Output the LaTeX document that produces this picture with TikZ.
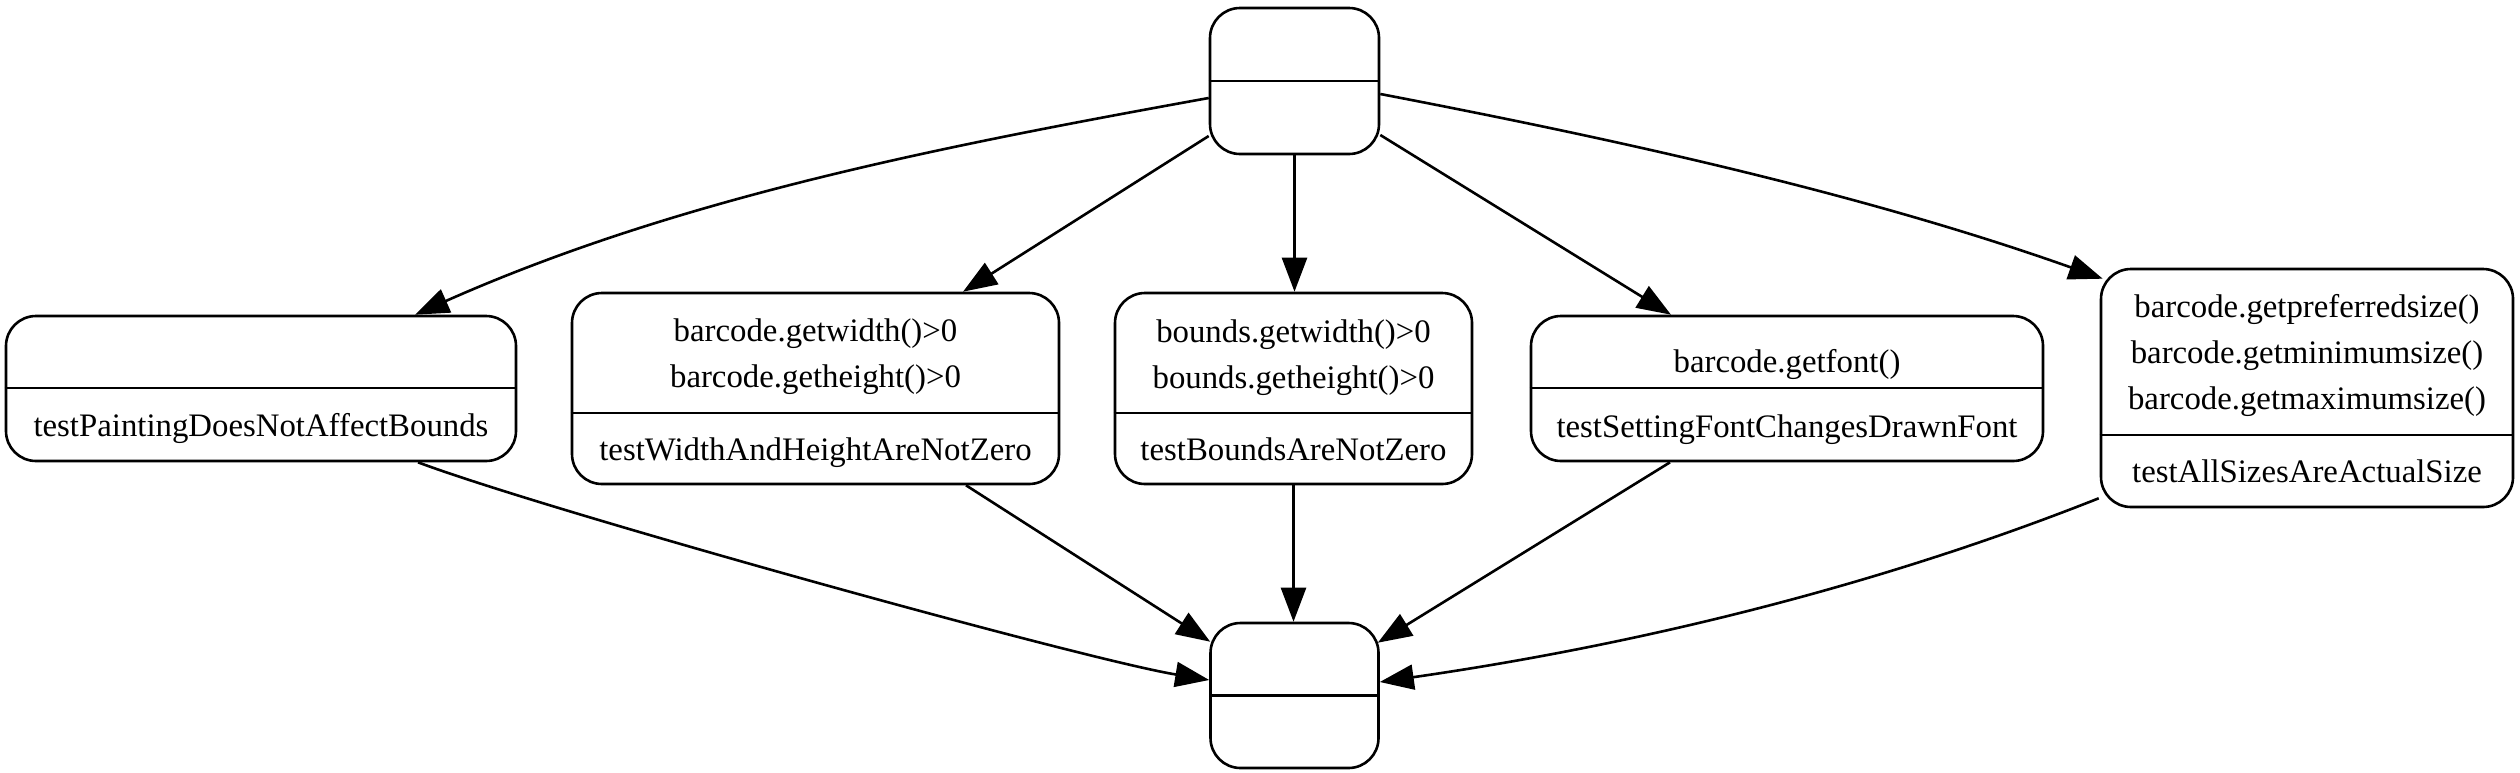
\documentclass[tikz,border=0pt]{standalone}
\usepackage{fontspec}
\setmainfont{Liberation Serif}
\usetikzlibrary{arrows.meta,calc}
\begin{document}
\begin{tikzpicture}[x=0.5pt,y=-0.5pt,
  box/.style={draw,line width=1.3pt,rounded corners=15pt,inner sep=0pt,fill=white},
  lbl/.style={anchor=base,inner sep=0pt,font=\fontsize{16.4}{19}\selectfont},
  edge/.style={line width=1.3pt,-{Triangle[length=17pt,width=12.5pt]}},
  divider/.style={line width=1.3pt}]
\useasboundingbox (0,0) rectangle (2520,772);
% boxes
\node[box,minimum width=84.5pt,minimum height=73pt] (T) at (1294.5,81) {};
\node[box,minimum width=255pt,minimum height=72.5pt] (L) at (261,388.5) {};
\node[box,minimum width=243.5pt,minimum height=95.5pt] (A) at (815.5,388.5) {};
\node[box,minimum width=178.5pt,minimum height=95.5pt] (B) at (1293.5,388.5) {};
\node[box,minimum width=256pt,minimum height=72.5pt] (C) at (1787,388.5) {};
\node[box,minimum width=206pt,minimum height=119pt] (D) at (2307,388) {};
\node[box,minimum width=84pt,minimum height=72.5pt] (Bt) at (1294.5,695.5) {};
% dividers
\draw[divider] (T.west) -- (T.east);
\draw[divider] ($(L.west)+(0,-0.5)$) -- ($(L.east)+(0,-0.5)$);
\draw[divider] ($(A.west)+(0,24.5)$) -- ($(A.east)+(0,24.5)$);
\draw[divider] ($(B.west)+(0,24.5)$) -- ($(B.east)+(0,24.5)$);
\draw[divider] ($(C.west)+(0,-0.5)$) -- ($(C.east)+(0,-0.5)$);
\draw[divider] ($(D.west)+(0,47)$) -- ($(D.east)+(0,47)$);
\draw[divider] (Bt.west) -- (Bt.east);
% labels
\node[lbl] (tL) at (261,436) {testPaintingDoesNotAffectBounds};
\node[lbl] (tA1) at (815.5,341) {barcode.getwidth()>0};
\node[lbl] (tA2) at (815.5,387) {barcode.getheight()>0};
\node[lbl] (tA3) at (815.5,460) {testWidthAndHeightAreNotZero};
\node[lbl] (tB1) at (1293.5,342) {bounds.getwidth()>0};
\node[lbl] (tB2) at (1293.5,388) {bounds.getheight()>0};
\node[lbl] (tB3) at (1293.5,460) {testBoundsAreNotZero};
\node[lbl] (tC1) at (1787,372) {barcode.getfont()};
\node[lbl] (tC2) at (1787,437) {testSettingFontChangesDrawnFont};
\node[lbl] (tD1) at (2307,317) {barcode.getpreferredsize()};
\node[lbl] (tD2) at (2307,363) {barcode.getminimumsize()};
\node[lbl] (tD3) at (2307,409) {barcode.getmaximumsize()};
\node[lbl] (tD4) at (2307,482) {testAllSizesAreActualSize};
% edges
\draw[edge] ($(T.west)+(0,17)$) .. controls (944,146) and (680,197) .. ($(L.north)+(154,0)$);
\draw[edge] ($(T.west)+(0,55)$) -- ($(A.north)+(147.5,0)$);
\draw[edge] (T.south) -- (T.south |- B.north);
\draw[edge] ($(T.east)+(0,54)$) -- ($(C.north)+(-116,0)$);
\draw[edge] ($(T.east)+(0,13)$) .. controls (1620,140) and (1864,194) .. ($(D.north west)+(3,11)$);
\draw[edge] ($(L.south)+(157,0)$) .. controls (548,511) and (1082,659) .. ($(Bt.west)+(0,-15.5)$);
\draw[edge] ($(A.south)+(150.5,0)$) -- ($(Bt.north west)+(1,20)$);
\draw[edge] (B.south) -- (B.south |- Bt.north);
\draw[edge] ($(C.south)+(-117,0)$) -- ($(Bt.north east)+(-2,21)$);
\draw[edge] ($(D.south west)+(-1,-10)$) .. controls (1860,593) and (1616,648) .. ($(Bt.east)+(0,-13.5)$);
\end{tikzpicture}
\end{document}
